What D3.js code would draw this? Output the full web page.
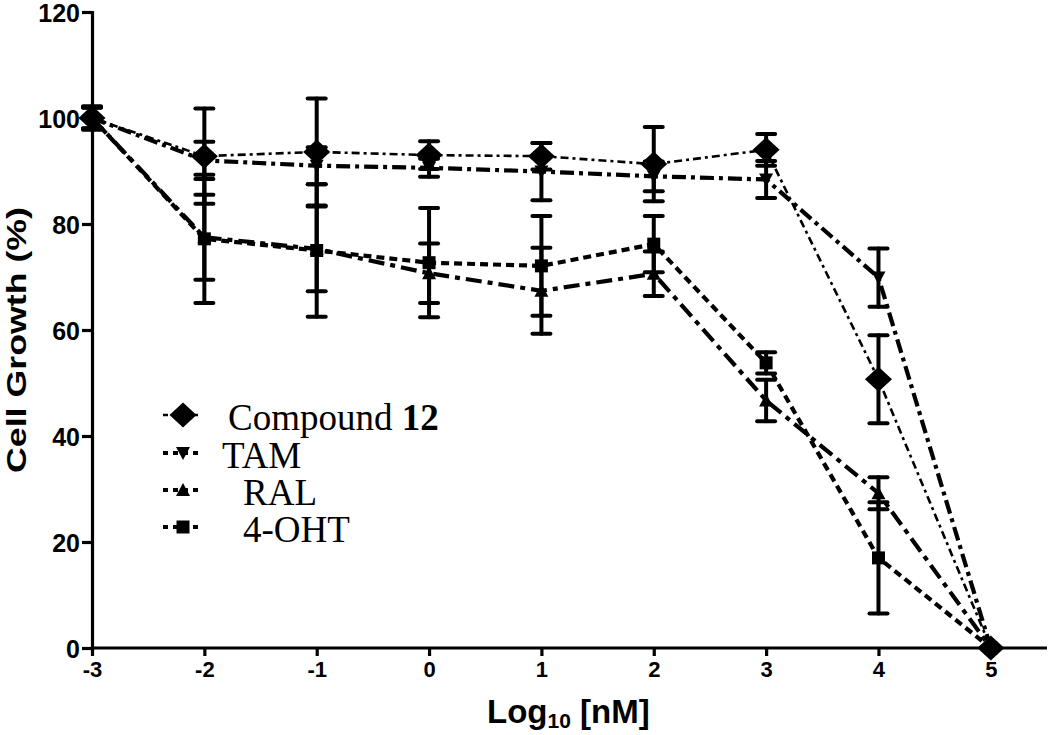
<!DOCTYPE html>
<html>
<head>
<meta charset="utf-8">
<script src="https://cdn.jsdelivr.net/npm/d3@7"></script>
<style>
  html, body { margin: 0; padding: 0; background: #fff; }
  svg { display: block; }
</style>
</head>
<body>
<svg id="chart" width="1050" height="735"></svg>
<script>
// ---- data ----
const xValues = [-3, -2, -1, 0, 1, 2, 3, 4, 5];
const compoundValues = [100, 92.8, 93.6, 93.0, 92.8, 91.3, 94.0, 50.7, 0];
const compoundErrors = [2.2, 9.0, 10.1, 2.6, 2.5, 7.0, 3.0, 8.3, 0];
const tamValues = [100, 92.0, 91.0, 90.6, 89.9, 89.0, 88.4, 69.9, 0];
const tamErrors = [2.0, 3.5, 3.5, 1.7, 5.4, 2.8, 3.5, 5.5, 0];
const ralValues = [100, 77.5, 75.3, 70.7, 67.4, 70.6, 46.7, 29.2, 0];
const ralErrors = [2.0, 8.0, 8.0, 5.6, 8.1, 4.2, 3.9, 3.0, 0];
const ohtValues = [100, 77.2, 75.0, 72.7, 72.1, 76.2, 53.8, 17.0, 0];
const ohtErrors = [2.0, 12.1, 12.5, 10.3, 9.4, 5.3, 2.0, 10.5, 0];
const seriesNames = ["Compound 12", "TAM", "RAL", "4-OHT"];
const xTicks = [-3, -2, -1, 0, 1, 2, 3, 4, 5];
const yTicks = [0, 20, 40, 60, 80, 100, 120];

// ---- styles ----
const series = [
  {name: seriesNames[0], values: compoundValues, errors: compoundErrors, symbol: "diamond", width: 2.6, dash: "8,4,3,4", labelX: 228},
  {name: seriesNames[1], values: tamValues, errors: tamErrors, symbol: "triDown", width: 4.2, dash: "14,5,4,5", labelX: 222},
  {name: seriesNames[2], values: ralValues, errors: ralErrors, symbol: "triUp", width: 4.2, dash: "16,6,5,6", labelX: 243},
  {name: seriesNames[3], values: ohtValues, errors: ohtErrors, symbol: "square", width: 4.2, dash: "8,5", labelX: 243}
];

const svg = d3.select("#chart");
const x = d3.scaleLinear().domain([-3, 5.5]).range([92, 1047]);
const y = d3.scaleLinear().domain([0, 120]).range([648, 12]);

function symbolPath(type) {
  if (type === "diamond") return "M0,-12.5L13.5,0L0,12.5L-13.5,0Z";
  if (type === "triDown") return "M-7,-6L7,-6L0,7Z";
  if (type === "triUp") return "M-7,6L7,6L0,-7Z";
  if (type === "square") return "M-6.5,-6.5L6.5,-6.5L6.5,6.5L-6.5,6.5Z";
}

// lines
const line = d3.line().x((d, i) => x(xValues[i])).y(d => y(d));
series.forEach(s => {
  svg.append("path").attr("d", line(s.values))
    .attr("fill", "none").attr("stroke", "#000")
    .attr("stroke-width", s.width).attr("stroke-dasharray", s.dash);
});

// error bars
series.forEach(s => {
  const g = svg.append("g").attr("stroke", "#000").attr("stroke-width", 4).attr("stroke-linecap", "round");
  s.values.forEach((v, i) => {
    const e = s.errors[i];
    if (!e) return;
    const cx = x(xValues[i]);
    g.append("line").attr("x1", cx).attr("x2", cx).attr("y1", y(v + e)).attr("y2", y(v - e));
    [v + e, v - e].forEach(c => {
      g.append("line").attr("x1", cx - 9).attr("x2", cx + 9).attr("y1", y(c)).attr("y2", y(c));
    });
  });
});

// markers
series.forEach(s => {
  svg.append("g").selectAll("path").data(s.values).join("path")
    .attr("transform", (d, i) => `translate(${x(xValues[i])},${y(d)})`)
    .attr("d", symbolPath(s.symbol)).attr("fill", "#000");
});

// axes
const xAxis = d3.axisBottom(x).tickValues(xTicks).tickSize(8).tickPadding(5).tickFormat(d3.format("d"));
const yAxis = d3.axisLeft(y).tickValues(yTicks).tickSize(10).tickPadding(2);
const gx = svg.append("g").attr("transform", `translate(0,${y(0)})`).call(xAxis);
const gy = svg.append("g").attr("transform", `translate(${x(-3)},0)`).call(yAxis);
[gx, gy].forEach(g => {
  g.attr("font-family", "Liberation Sans, Arial, sans-serif").attr("font-weight", "bold");
  g.select(".domain").attr("stroke-width", 3.2).attr("stroke", "#000");
  g.selectAll(".tick line").attr("stroke-width", 3.2).attr("stroke", "#000");
  g.selectAll(".tick text").attr("fill", "#000");
});
gx.attr("font-size", 22);
gy.attr("font-size", 25);
gx.selectAll(".tick text").text(d => d < 0 ? "-" + Math.abs(d) : d);
gy.selectAll(".tick text").attr("dy", "0.36em");
gx.select(".domain").attr("d", `M${x(-3)},0H${x(5.5)}`);

// axis titles
svg.append("text")
  .attr("transform", `translate(26,${(207 + 473) / 2}) rotate(-90)`)
  .attr("text-anchor", "middle")
  .attr("font-family", "Liberation Sans, Arial, sans-serif").attr("font-weight", "bold")
  .attr("font-size", 28).attr("textLength", 266).attr("lengthAdjust", "spacingAndGlyphs")
  .text("Cell Growth (%)");

const xt = svg.append("text").attr("x", 487).attr("y", 723)
  .attr("font-family", "Liberation Sans, Arial, sans-serif").attr("font-weight", "bold").attr("font-size", 33);
xt.append("tspan").text("Log");
xt.append("tspan").attr("font-size", 21).attr("dy", 5).text("10");
xt.append("tspan").attr("dy", -5).text(" [nM]");

// legend
const legendY = [415, 453, 490, 527];
series.forEach((s, i) => {
  const ly = legendY[i];
  svg.append("line").attr("x1", 163).attr("x2", 203).attr("y1", ly).attr("y2", ly)
    .attr("stroke", "#000").attr("stroke-width", s.width).attr("stroke-dasharray", "5,5");
  svg.append("path").attr("transform", `translate(183,${ly})`).attr("d", symbolPath(s.symbol)).attr("fill", "#000");
  const t = svg.append("text").attr("x", s.labelX).attr("y", ly + 15)
    .attr("font-family", "Liberation Serif, Times New Roman, serif").attr("font-size", 37).attr("fill", "#000");
  if (s.name === "Compound 12") {
    t.append("tspan").text("Compound ");
    t.append("tspan").attr("font-weight", "bold").text("12");
  } else {
    t.text(s.name);
  }
});
</script>
</body>
</html>
